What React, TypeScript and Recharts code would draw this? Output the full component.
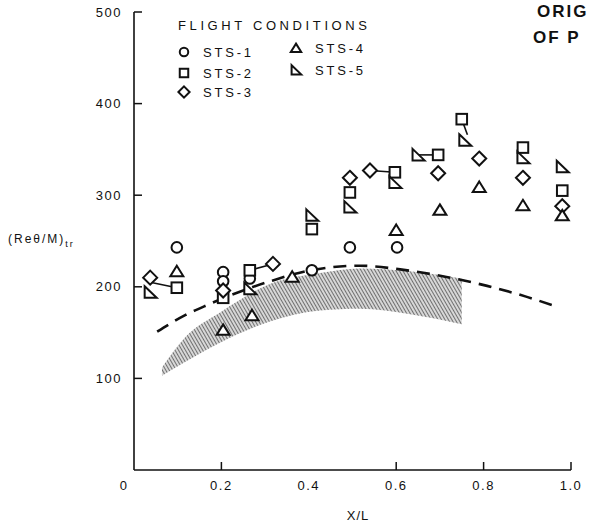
import React from 'react';
import { ComposedChart, Scatter, Line, Area, XAxis, YAxis, ReferenceLine } from 'recharts';

// axis ticks
const xTicks = [0, 0.2, 0.4, 0.6, 0.8, 1.0];
const xTickLabels = ['0', '0.2', '0.4', '0.6', '0.8', '1.0'];
const xTicksMarked = [0.2, 0.6, 0.8, 1.0];
const yTicks = [100, 200, 300, 400, 500];

// flight data, [x/L, (Re_theta/M)_tr]
const sts1: [number, number][] = [
  [0.098, 243], [0.204, 216], [0.204, 206], [0.265, 209], [0.407, 218], [0.494, 243], [0.602, 243]
];
const sts2: [number, number][] = [
  [0.098, 199], [0.204, 188], [0.265, 218], [0.407, 263], [0.494, 303], [0.597, 325],
  [0.696, 344], [0.75, 383], [0.89, 352], [0.98, 305]
];
const sts3: [number, number][] = [
  [0.037, 210], [0.204, 196], [0.318, 225], [0.494, 319], [0.54, 327], [0.696, 324],
  [0.79, 340], [0.89, 319], [0.98, 288]
];
const sts4: [number, number][] = [
  [0.098, 217], [0.204, 153], [0.27, 169], [0.362, 211], [0.6, 262], [0.7, 284],
  [0.79, 309], [0.89, 289], [0.98, 278]
];
const sts5: [number, number][] = [
  [0.037, 194], [0.265, 198], [0.407, 278], [0.494, 287], [0.597, 314], [0.65, 344],
  [0.757, 360], [0.89, 341], [0.98, 331]
];

// pairs joined by a short line in the original
const links: [number, number, number, number][] = [
  [0.037, 205, 0.098, 199],
  [0.265, 218, 0.318, 225],
  [0.54, 327, 0.597, 325],
  [0.65, 344, 0.696, 344],
  [0.75, 383, 0.763, 366]
];

// dashed correlation curve
const curveX = [0.053, 0.117, 0.167, 0.318, 0.403, 0.517, 0.609, 0.712, 0.808, 0.899, 0.963];
const curveY = [151, 169, 180, 207, 218, 223, 219, 211, 201, 189, 179];

// shaded band
const bandX = [0.064, 0.117, 0.197, 0.311, 0.426, 0.517, 0.632, 0.75];
const bandLow = [103, 118, 139, 162, 174, 176, 170, 159];
const bandHigh = [112, 145, 172, 203, 215, 220, 217, 209];

const ink = '#111';
const font = '"Liberation Sans", Arial, sans-serif';

const toPts = (arr: [number, number][]) => arr.map(([x, y]) => ({ x, y }));
const curveData = curveX.map((x, i) => ({ x, y: curveY[i] }));
const bandData = bandX.map((x, i) => ({ x, band: [bandLow[i], bandHigh[i]] }));

type Kind = 'circle' | 'square' | 'diamond' | 'triangle' | 'rtri';

const Marker = ({ kind, cx, cy, s = 1 }: { kind: Kind; cx: number; cy: number; s?: number }) => {
  const st = { fill: '#fff', stroke: ink, strokeWidth: 2 };
  if (kind === 'circle') return <circle cx={cx} cy={cy} r={5.3 * s} {...st} />;
  if (kind === 'square') return <rect x={cx - 5.3 * s} y={cy - 5.3 * s} width={10.6 * s} height={10.6 * s} {...st} />;
  if (kind === 'diamond') {
    const d = 7 * s;
    return <polygon points={`${cx},${cy - d} ${cx + d},${cy} ${cx},${cy + d} ${cx - d},${cy}`} {...st} />;
  }
  if (kind === 'triangle') {
    return <polygon points={`${cx},${cy - 5.5 * s} ${cx + 6.5 * s},${cy + 5 * s} ${cx - 6.5 * s},${cy + 5 * s}`} {...st} />;
  }
  return <polygon points={`${cx - 5.5 * s},${cy - 6 * s} ${cx + 6.5 * s},${cy + 5.5 * s} ${cx - 5.5 * s},${cy + 5.5 * s}`} {...st} />;
};

const shapeOf = (kind: Kind) => (p: any) => <Marker kind={kind} cx={p.cx} cy={p.cy} />;

const XTick = (props: any) => {
  const { x, y, payload } = props;
  const v = payload.value;
  const label = xTickLabels[xTicks.indexOf(v)];
  return (
    <g>
      {xTicksMarked.includes(v) && <line x1={x} y1={y} x2={x} y2={y - 8} stroke={ink} strokeWidth={1.5} />}
      <text x={v === 0 ? x - 10 : x} y={y + 20} textAnchor="middle" fontSize={13} letterSpacing={1.5}
        fontFamily={font} fill={ink}>{label}</text>
    </g>
  );
};

const YTick = (props: any) => {
  const { x, y, payload } = props;
  return (
    <g>
      <line x1={x} y1={y} x2={x + 8} y2={y} stroke={ink} strokeWidth={1.5} />
      <text x={x - 12} y={y} dy="0.35em" textAnchor="end" fontSize={13} letterSpacing={1.5}
        fontFamily={font} fill={ink}>{payload.value}</text>
    </g>
  );
};

const legendItems: { kind: Kind; label: string; x: number; y: number }[] = [
  { kind: 'circle', label: 'STS-1', x: 184, y: 52 },
  { kind: 'square', label: 'STS-2', x: 184, y: 73 },
  { kind: 'diamond', label: 'STS-3', x: 184, y: 92 },
  { kind: 'triangle', label: 'STS-4', x: 296, y: 48 },
  { kind: 'rtri', label: 'STS-5', x: 296, y: 70 }
];

const Overlay = () => (
  <svg width={591} height={527} style={{ position: 'absolute', left: 0, top: 0, pointerEvents: 'none' }}>
    <g fontFamily={font} fill={ink}>
      <text x={178} y={30} fontSize={13} textLength={189} lengthAdjust="spacing">FLIGHT CONDITIONS</text>
      {legendItems.map((it) => (
        <g key={it.label}>
          <Marker kind={it.kind} cx={it.x} cy={it.y} s={0.8} />
          <text x={it.x + 19} y={it.y + 5} fontSize={13} textLength={48} lengthAdjust="spacing">{it.label}</text>
        </g>
      ))}
      <text x={537} y={17} fontSize={17} fontWeight="bold" letterSpacing={2}>ORIG</text>
      <text x={533} y={43} fontSize={17} fontWeight="bold" letterSpacing={2}>OF P</text>
      <text x={8} y={243} fontSize={12} letterSpacing={2}>
        (Reθ/M)<tspan fontSize={9} dy={4}>tr</tspan>
      </text>
      <text x={358} y={520} fontSize={13} textAnchor="middle" letterSpacing={1}>X/L</text>
    </g>
  </svg>
);

export default function App() {
  return (
    <div style={{ position: 'absolute', left: 0, top: 0, width: 591, height: 527, overflow: 'hidden', background: '#fff' }}>
      <ComposedChart width={591} height={527} margin={{ top: 12, right: 20, left: 0, bottom: 0 }}>
        <defs>
          <pattern id="hatch" width={3} height={3} patternUnits="userSpaceOnUse" patternTransform="rotate(-30)">
            <rect width={3} height={3} fill="#d0d0d0" />
            <line x1={0} y1={0} x2={0} y2={3} stroke="#222" strokeWidth={1.4} />
          </pattern>
        </defs>
        <XAxis type="number" dataKey="x" domain={[0, 1]} ticks={xTicks} interval={0} height={57}
          axisLine={{ stroke: ink, strokeWidth: 1.6 }} tickLine={false} tickSize={0} tickMargin={0} tick={<XTick />} />
        <YAxis type="number" domain={[0, 500]} ticks={yTicks} interval={0} width={134}
          axisLine={{ stroke: ink, strokeWidth: 1.6 }} tickLine={false} tickSize={0} tickMargin={0} tick={<YTick />} />
        <Area data={bandData} dataKey="band" type="monotone" fill="url(#hatch)" fillOpacity={0.85} stroke="none"
          isAnimationActive={false} />
        <Line data={curveData} dataKey="y" type="monotone" stroke={ink} strokeWidth={2.6} strokeDasharray="13 8"
          dot={false} isAnimationActive={false} />
        {links.map(([x1, y1, x2, y2], i) => (
          <ReferenceLine key={i} segment={[{ x: x1, y: y1 }, { x: x2, y: y2 }]} stroke={ink} strokeWidth={1.6} />
        ))}
        <Scatter data={toPts(sts1)} dataKey="y" shape={shapeOf('circle')} isAnimationActive={false} />
        <Scatter data={toPts(sts2)} dataKey="y" shape={shapeOf('square')} isAnimationActive={false} />
        <Scatter data={toPts(sts3)} dataKey="y" shape={shapeOf('diamond')} isAnimationActive={false} />
        <Scatter data={toPts(sts4)} dataKey="y" shape={shapeOf('triangle')} isAnimationActive={false} />
        <Scatter data={toPts(sts5)} dataKey="y" shape={shapeOf('rtri')} isAnimationActive={false} />
      </ComposedChart>
      <Overlay />
    </div>
  );
}
